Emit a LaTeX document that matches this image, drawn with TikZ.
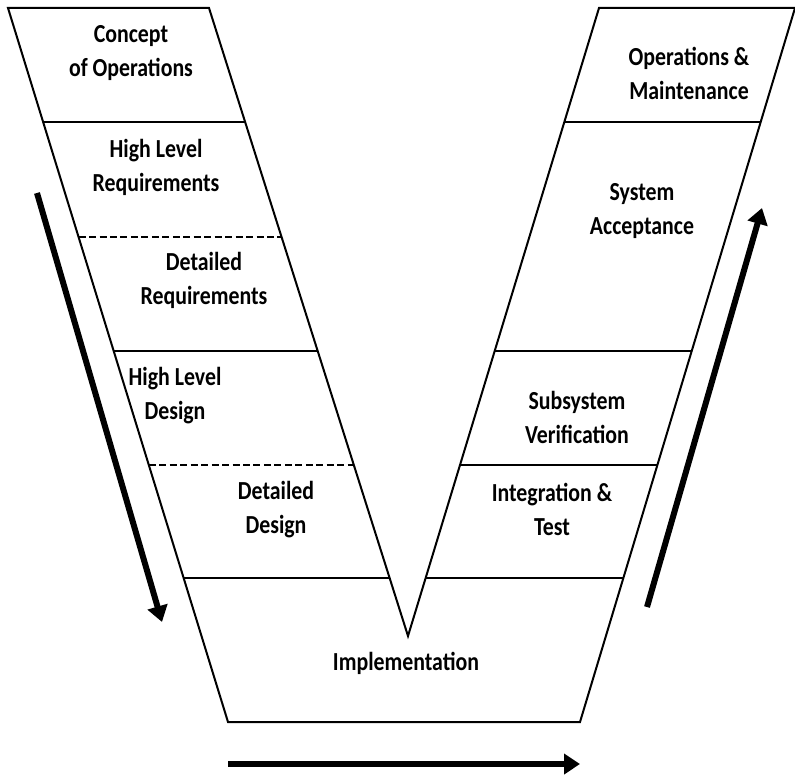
\documentclass[tikz,border=0pt]{standalone}
\usepackage{fontspec}
\setmainfont{Carlito}[FakeStretch=0.84]
\usetikzlibrary{arrows.meta}

\tikzset{every picture/.style={line width=0.75pt}}
\tikzset{
  phase/.style={font=\fontsize{19.5}{25.5}\selectfont\bfseries, align=center, inner sep=0.75pt},
  edge/.style={line width=1.5},
  split/.style={line width=1.5, dash pattern={on 5.25pt off 2.6pt}},
  flow/.style={line width=4.5, -{Triangle[length=12pt,width=15pt]}}
}

\begin{document}
\begin{tikzpicture}[x=0.75pt,y=0.75pt,yscale=-1,xscale=1]
\useasboundingbox (0,0) rectangle (795,774);

%Corners of the V
\coordinate (ltop) at (8,8);
\coordinate (lin) at (209,8);
\coordinate (vtip) at (408,636);
\coordinate (rin) at (599,8);
\coordinate (rtop) at (795,8);
\coordinate (rbot) at (580,722);
\coordinate (lbot) at (228,722);

%Shape: V outline
\draw [edge] (ltop) -- (lin) -- (vtip) -- (rin) -- (rtop) -- (rbot) -- (lbot) -- cycle ;

%Straight Lines: left arm
\draw [edge] (43.1,122) -- (245.1,122) ;
\draw [split] (78.6,237) -- (281.6,237) ;
\draw [edge] (113.7,351) -- (317.7,351) ;
\draw [split] (148.8,465) -- (353.8,465) ;
\draw [edge] (183.6,578) -- (389.6,578) ;
%Straight Lines: right arm
\draw [edge] (564.3,122) -- (760.7,122) ;
\draw [edge] (494.7,351) -- (691.7,351) ;
\draw [edge] (460,465) -- (657.4,465) ;
\draw [edge] (425.6,578) -- (623.4,578) ;

%Arrows
\coordinate (downstart) at (37,193);
\coordinate (downend) at (162,622);
\coordinate (upstart) at (647,607);
\coordinate (upend) at (762,208);
\coordinate (timestart) at (228,764);
\coordinate (timeend) at (580,764);
\draw [flow] (downstart) -- (downend) ;
\draw [flow] (upstart) -- (upend) ;
\draw [flow] (timestart) -- (timeend) ;

% Text Node
\node [phase] (conops) at (131,53) {Concept\\of Operations};
% Text Node
\node [phase] (hlreq) at (156,167) {High Level\\Requirements};
% Text Node
\node [phase] (dreq) at (204,280) {Detailed\\Requirements};
% Text Node
\node [phase] (hldes) at (175,396) {High Level\\Design};
% Text Node
\node [phase] (ddes) at (276,510) {Detailed\\Design};
% Text Node
\node [phase] (impl) at (406,663) {Implementation};
% Text Node
\node [phase] (inttest) at (552,509) {Integration \&\\Test};
% Text Node
\node [phase] (subver) at (577,417) {Subsystem\\Verification};
% Text Node
\node [phase] (sysacc) at (642,211) {System\\Acceptance};
% Text Node
\node [phase] (opsmaint) at (689,73) {Operations \&\\Maintenance};

\end{tikzpicture}
\end{document}
